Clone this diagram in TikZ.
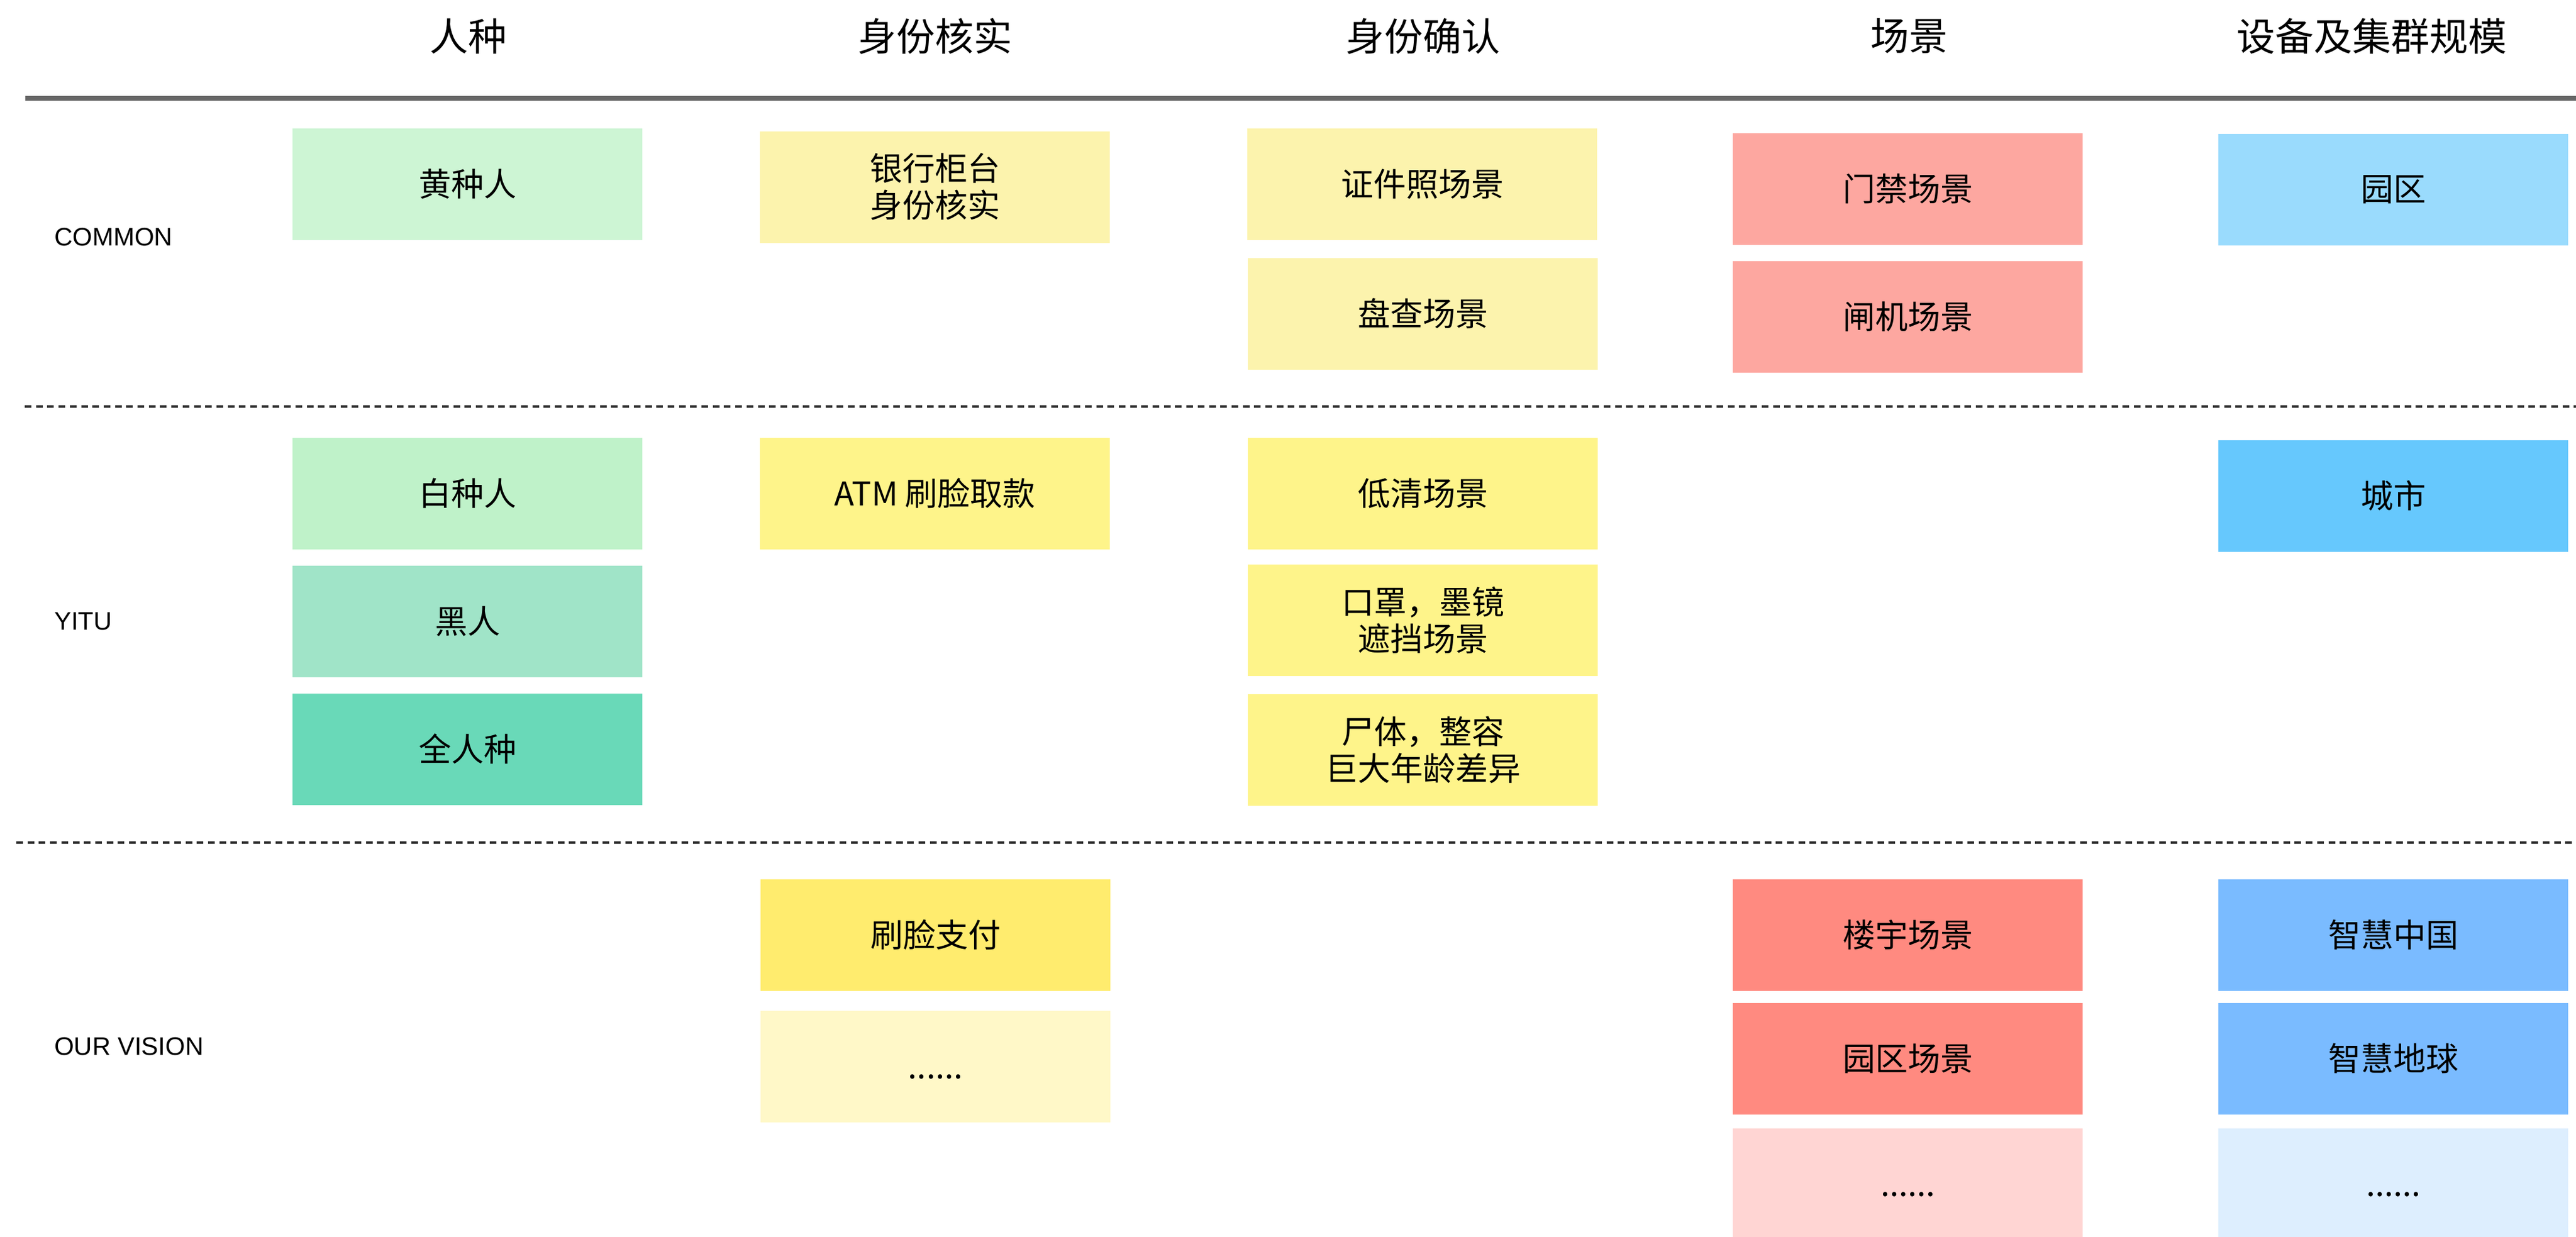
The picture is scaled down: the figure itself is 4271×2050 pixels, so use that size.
\documentclass[tikz,border=0pt]{standalone}
\usepackage{fontspec}
\setmainfont{Noto Sans CJK SC}
\newfontfamily\latinfont{Liberation Sans}
\definecolor{cGreenA}{HTML}{CDF5D4}
\definecolor{cGreenB}{HTML}{BFF2C9}
\definecolor{cGreenC}{HTML}{A0E4C8}
\definecolor{cGreenD}{HTML}{69D9B8}
\definecolor{cYelA}{HTML}{FCF3AD}
\definecolor{cYelB}{HTML}{FEF48A}
\definecolor{cYelC}{HTML}{FFEC6E}
\definecolor{cYelD}{HTML}{FFF8C8}
\definecolor{cRedA}{HTML}{FDA7A0}
\definecolor{cRedB}{HTML}{FF8A80}
\definecolor{cRedC}{HTML}{FFD5D3}
\definecolor{cBluA}{HTML}{9ADBFD}
\definecolor{cBluB}{HTML}{66C8FD}
\definecolor{cBluC}{HTML}{7ABBFF}
\definecolor{cBluD}{HTML}{DDEEFE}
\definecolor{cRule}{HTML}{666666}
\newcommand{\mydots}{\vphantom{场}......}
\begin{document}
\begin{tikzpicture}[x=1pt,y=-1pt,
  cell/.style={minimum width=580pt,minimum height=185pt,inner sep=0pt,
    font=\fontsize{54}{61}\selectfont,align=center,text=black},
  head/.style={font=\fontsize{64}{70}\selectfont,inner sep=0pt,text=black},
  rowlabel/.style={font=\latinfont\fontsize{42}{48}\selectfont,anchor=west,inner sep=0pt,text=black},
  sep/.style={draw=black!85,line width=3.5pt,dash pattern=on 11pt off 7.7pt}]
\useasboundingbox (0,0) rectangle (4271,2050);
% headers
\node[head] (h1) at (776,60) {人种};
\node[head] (h2) at (1550,60) {身份核实};
\node[head] (h3) at (2359,60) {身份确认};
\node[head] (h4) at (3165,60) {场景};
\node[head] (h5) at (3932,60) {设备及集群规模};
\coordinate (r0a) at (42,163);
\coordinate (r0b) at (4271,163);
\draw[cRule,line width=8pt] (r0a) -- (r0b);
\coordinate (r1a) at (41,674);
\coordinate (r1b) at (4271,674);
\draw[sep] (r1a) -- (r1b);
\coordinate (r2a) at (27,1397);
\coordinate (r2b) at (4271,1397);
\draw[sep] (r2a) -- (r2b);
% row labels
\node[rowlabel] (lc) at (90,393) {COMMON};
\node[rowlabel] (ly) at (90,1030) {YITU};
\node[rowlabel] (lv) at (90,1735) {OUR VISION};
% COMMON
\node[cell,fill=cGreenA] (a1) at (775,305) {黄种人};
\node[cell,fill=cYelA] (b1) at (1550,310) {银行柜台\\身份核实};
\node[cell,fill=cYelA] (c1) at (2358,305) {证件照场景};
\node[cell,fill=cYelA] (c2) at (2359,520) {盘查场景};
\node[cell,fill=cRedA] (d1) at (3163,313) {门禁场景};
\node[cell,fill=cRedA] (d2) at (3163,525) {闸机场景};
\node[cell,fill=cBluA] (e1) at (3968,314) {园区};
% YITU
\node[cell,fill=cGreenB] (a2) at (775,818) {白种人};
\node[cell,fill=cGreenC] (a3) at (775,1030) {黑人};
\node[cell,fill=cGreenD] (a4) at (775,1242) {全人种};
\node[cell,fill=cYelB] (b2) at (1550,818) {ATM 刷脸取款};
\node[cell,fill=cYelB] (c3) at (2359,818) {低清场景};
\node[cell,fill=cYelB] (c4) at (2359,1028) {口罩，墨镜\\遮挡场景};
\node[cell,fill=cYelB] (c5) at (2359,1243) {尸体，整容\\巨大年龄差异};
\node[cell,fill=cBluB] (e2) at (3968,822) {城市};
% OUR VISION
\node[cell,fill=cYelC] (b3) at (1551,1550) {刷脸支付};
\node[cell,fill=cYelD] (b4) at (1551,1768) {\mydots};
\node[cell,fill=cRedB] (d3) at (3163,1550) {楼宇场景};
\node[cell,fill=cRedB] (d4) at (3163,1755) {园区场景};
\node[cell,fill=cRedC] (d5) at (3163,1963) {\mydots};
\node[cell,fill=cBluC] (e3) at (3968,1550) {智慧中国};
\node[cell,fill=cBluC] (e4) at (3968,1755) {智慧地球};
\node[cell,fill=cBluD] (e5) at (3968,1963) {\mydots};
\end{tikzpicture}
\end{document}
